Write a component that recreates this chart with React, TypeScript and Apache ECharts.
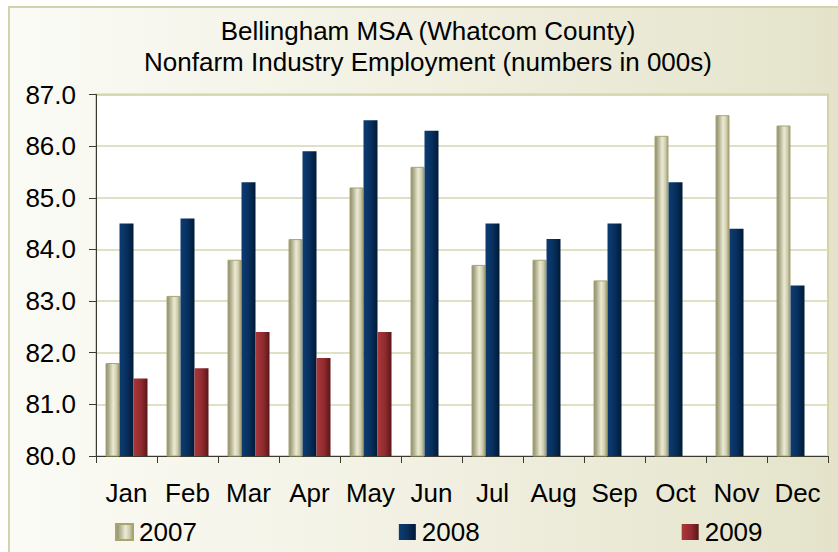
import React, { useEffect, useRef } from "react";
import * as echarts from "echarts";

const months = ["Jan", "Feb", "Mar", "Apr", "May", "Jun", "Jul", "Aug", "Sep", "Oct", "Nov", "Dec"];
const seriesNames = ["2007", "2008", "2009"];
const values2007 = [81.8, 83.1, 83.8, 84.2, 85.2, 85.6, 83.7, 83.8, 83.4, 86.2, 86.6, 86.4];
const values2008 = [84.5, 84.6, 85.3, 85.9, 86.5, 86.3, 84.5, 84.2, 84.5, 85.3, 84.4, 83.3];
const values2009 = [81.5, 81.7, 82.4, 81.9, 82.4, null, null, null, null, null, null, null];
const titleLines = ["Bellingham MSA (Whatcom County)", "Nonfarm Industry Employment (numbers in 000s)"];

const FONT = "Liberation Sans, Arial, sans-serif";

const grad = (stops: [number, string][]) =>
  new echarts.graphic.LinearGradient(0, 0, 1, 0, stops.map(([offset, color]) => ({ offset, color })));

export default function App() {
  const ref = useRef<HTMLDivElement>(null);
  useEffect(() => {
    if (!ref.current) return;
    const chart = echarts.init(ref.current, undefined, { renderer: "svg" });
    const khaki = grad([
      [0, "#8c8b6c"],
      [0.25, "#b6b496"],
      [0.55, "#ecebd2"],
      [0.8, "#cfcdb0"],
      [1, "#9a9878"],
    ]);
    const navy = grad([
      [0, "#0d3c72"],
      [0.5, "#08305f"],
      [1, "#001a36"],
    ]);
    const red = grad([
      [0, "#ab373c"],
      [0.55, "#8f2b2f"],
      [1, "#5a1618"],
    ]);
    chart.setOption({
      animation: false,
      graphic: [
        {
          type: "rect",
          z: -10,
          silent: true,
          shape: { x: 9, y: 7, width: 900, height: 600 },
          style: {
            fill: new echarts.graphic.LinearGradient(0, 0, 1, 0, [
              { offset: 0, color: "#fbfbf6" },
              { offset: 0.5, color: "#f0efe0" },
              { offset: 1, color: "#e2e1c6" },
            ]),
            stroke: "#d4d3ac",
            lineWidth: 2,
          },
        },
        {
          type: "text",
          x: 428,
          y: 31,
          style: {
            text: titleLines[0],
            font: `26px ${FONT}`,
            fill: "#000",
            textAlign: "center",
            textVerticalAlign: "middle",
          },
        },
        {
          type: "text",
          x: 428,
          y: 62,
          style: {
            text: titleLines[1],
            font: `26px ${FONT}`,
            fill: "#000",
            textAlign: "center",
            textVerticalAlign: "middle",
          },
        },
      ],
      legend: {
        data: seriesNames,
        left: 110,
        top: 514,
        itemWidth: 17,
        itemHeight: 16,
        itemGap: 202,
        icon: "rect",
        textStyle: { fontSize: 26, fontFamily: FONT, color: "#000", padding: [0, 0, 0, 1] },
      },
      grid: {
        left: 96,
        right: 10,
        top: 94.5,
        bottom: 96,
        show: true,
        backgroundColor: "#ffffff",
        borderColor: "#d3d2a8",
        borderWidth: 2,
      },
      xAxis: {
        type: "category",
        data: months,
        axisLine: { lineStyle: { color: "#3a3a30", width: 1 } },
        axisTick: { show: true, length: 7, lineStyle: { color: "#3a3a30" } },
        axisLabel: { interval: 0, margin: 24, fontSize: 26, fontFamily: FONT, color: "#000" },
      },
      yAxis: {
        type: "value",
        min: 80,
        max: 87,
        interval: 1,
        axisLine: { show: true, lineStyle: { color: "#3a3a30", width: 1 } },
        axisTick: { show: true, length: 7, lineStyle: { color: "#3a3a30" } },
        axisLabel: {
          margin: 20,
          fontSize: 26,
          fontFamily: FONT,
          color: "#000",
          formatter: (v: number) => v.toFixed(1),
        },
        splitLine: { lineStyle: { color: "#d6d6b0", width: 1.5 } },
      },
      series: [
        {
          name: seriesNames[0],
          type: "bar",
          data: values2007,
          barWidth: 14,
          barGap: "0%",
          itemStyle: { color: khaki, borderColor: "#a8a66c", borderWidth: 1 },
        },
        {
          name: seriesNames[1],
          type: "bar",
          data: values2008,
          barWidth: 14,
          barGap: "0%",
          itemStyle: { color: navy },
        },
        {
          name: seriesNames[2],
          type: "bar",
          data: values2009,
          barWidth: 14,
          barGap: "0%",
          itemStyle: { color: red },
        },
      ],
    });
    return () => chart.dispose();
  }, []);
  return (
    <div
      ref={ref}
      style={{ position: "absolute", left: 0, top: 0, width: 838, height: 552, background: "#ffffff" }}
    />
  );
}
